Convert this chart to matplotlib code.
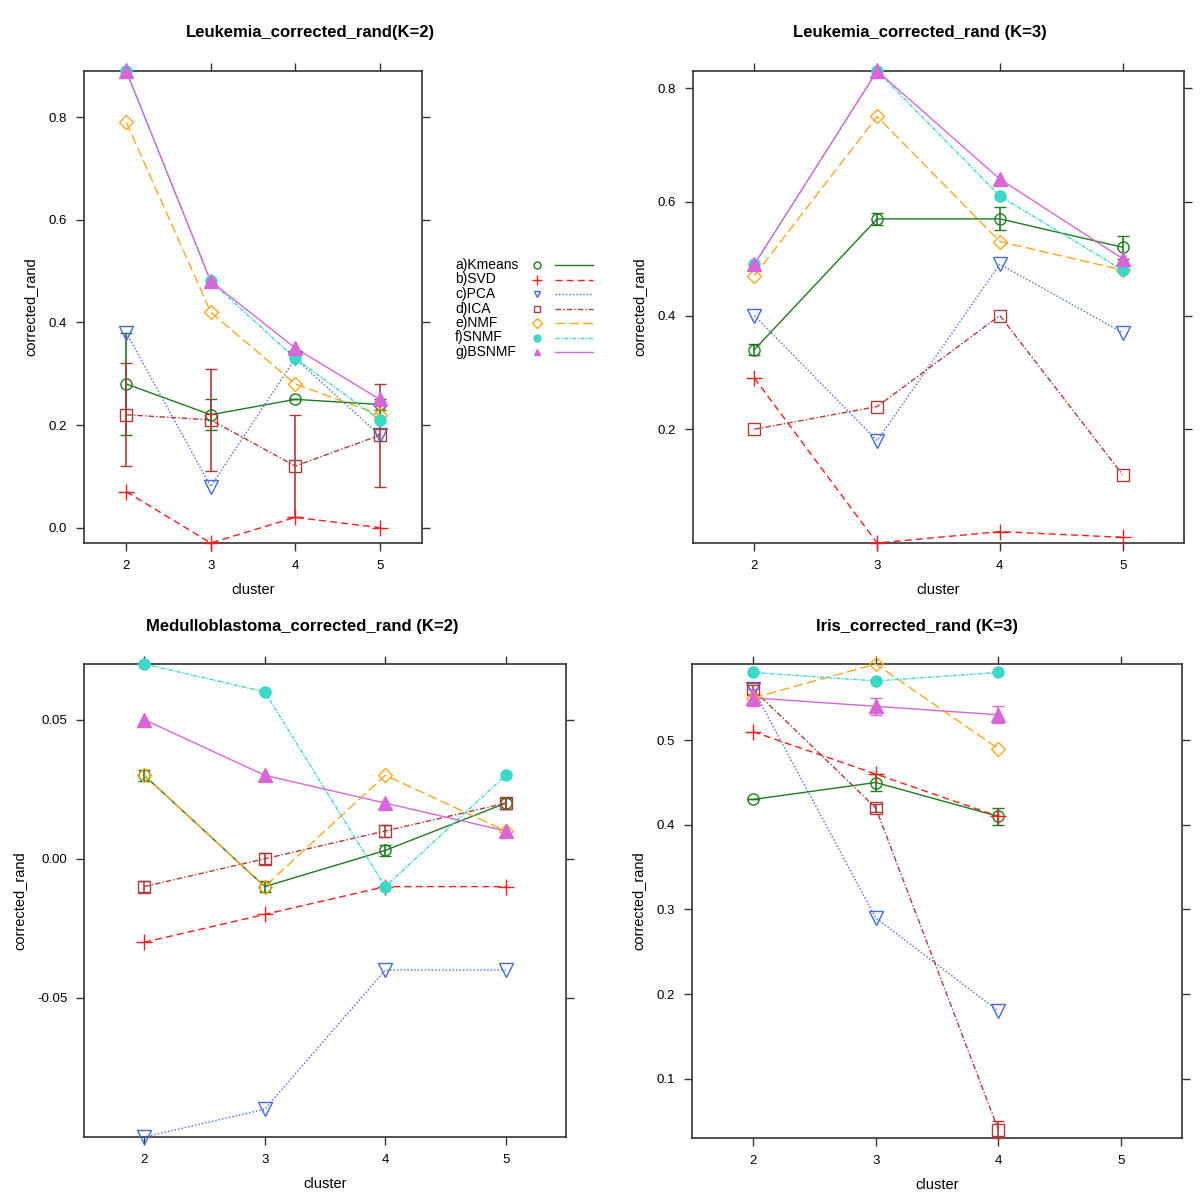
import numpy as np
import matplotlib
matplotlib.use("Agg")
import matplotlib.pyplot as plt
from matplotlib.lines import Line2D

plt.rcParams['font.family'] = ['Liberation Sans', 'DejaVu Sans']

# cluster numbers on the x axis
clusters = [2, 3, 4, 5]
methods = ['a)Kmeans', 'b)SVD', 'c)PCA', 'd)ICA', 'e)NMF', 'f)SNMF', 'g)BSNMF']

# Leukemia K=2
leuk2_vals = {
    'a)Kmeans': [0.28, 0.22, 0.25, 0.24],
    'b)SVD': [0.07, -0.03, 0.02, 0.0],
    'c)PCA': [0.38, 0.08, 0.33, 0.18],
    'd)ICA': [0.22, 0.21, 0.12, 0.18],
    'e)NMF': [0.79, 0.42, 0.28, 0.22],
    'f)SNMF': [0.89, 0.48, 0.33, 0.21],
    'g)BSNMF': [0.89, 0.48, 0.35, 0.25],
}
leuk2_err = {
    'a)Kmeans': [0.10, 0.03, 0.0, 0.01],
    'd)ICA': [0.10, 0.10, 0.10, 0.10],
}

# Leukemia K=3
leuk3_vals = {
    'a)Kmeans': [0.34, 0.57, 0.57, 0.52],
    'b)SVD': [0.29, 0.0, 0.02, 0.01],
    'c)PCA': [0.40, 0.18, 0.49, 0.37],
    'd)ICA': [0.20, 0.24, 0.40, 0.12],
    'e)NMF': [0.47, 0.75, 0.53, 0.48],
    'f)SNMF': [0.49, 0.83, 0.61, 0.48],
    'g)BSNMF': [0.49, 0.83, 0.64, 0.50],
}
leuk3_err = {
    'a)Kmeans': [0.01, 0.01, 0.02, 0.02],
}

# Medulloblastoma K=2
medu2_vals = {
    'a)Kmeans': [0.03, -0.01, 0.003, 0.02],
    'b)SVD': [-0.03, -0.02, -0.01, -0.01],
    'c)PCA': [-0.10, -0.09, -0.04, -0.04],
    'd)ICA': [-0.01, 0.0, 0.01, 0.02],
    'e)NMF': [0.03, -0.01, 0.03, 0.01],
    'f)SNMF': [0.07, 0.06, -0.01, 0.03],
    'g)BSNMF': [0.05, 0.03, 0.02, 0.01],
}
medu2_err = {
    'a)Kmeans': [0.002, 0.002, 0.002, 0.002],
    'd)ICA': [0.002, 0.002, 0.002, 0.002],
}

# Iris K=3 (no result for 5 clusters)
iris3_vals = {
    'a)Kmeans': [0.43, 0.45, 0.41, np.nan],
    'b)SVD': [0.51, 0.46, 0.41, np.nan],
    'c)PCA': [0.56, 0.29, 0.18, np.nan],
    'd)ICA': [0.56, 0.42, 0.04, np.nan],
    'e)NMF': [0.55, 0.59, 0.49, np.nan],
    'f)SNMF': [0.58, 0.57, 0.58, np.nan],
    'g)BSNMF': [0.55, 0.54, 0.53, np.nan],
}
iris3_err = {
    'a)Kmeans': [0.0, 0.01, 0.01, 0],
    'd)ICA': [0.005, 0.005, 0.01, 0],
    'g)BSNMF': [0.01, 0.01, 0.01, 0],
}

# style per method: colour, linestyle, marker, filled
styles = {
    'a)Kmeans': ('#1E7B1E', '-', 'o', False),
    'b)SVD': ('#FF1A1A', (0, (5, 3)), '+', False),
    'c)PCA': ('#4169E1', (0, (1, 1.5)), 'v', False),
    'd)ICA': ('#B03A3A', (0, (4, 1.5, 1, 1.5)), 's', False),
    'e)NMF': ('#FFA81E', (0, (7, 3)), 'D', False),
    'f)SNMF': ('#3CD8C8', (0, (3, 1, 1, 1)), 'o', True),
    'g)BSNMF': ('#D966D6', '-', '^', True),
}
msizes = {'o': 8, '+': 12, 'v': 10, 's': 8, 'D': 7.5, '^': 10}

fig = plt.figure(figsize=(12, 11.92), dpi=100)
W, H = 1200, 1192


def box(l, t, r, b):
    return [l / W, 1 - b / H, (r - l) / W, (b - t) / H]


panels = [
    (box(84, 71, 422, 543), leuk2_vals, leuk2_err, (-0.03, 0.89), [0.0, 0.2, 0.4, 0.6, 0.8], '%.1f'),
    (box(693, 71, 1184, 543), leuk3_vals, leuk3_err, (0.0, 0.83), [0.2, 0.4, 0.6, 0.8], '%.1f'),
    (box(84, 664, 566, 1137), medu2_vals, medu2_err, (-0.1, 0.07), [-0.05, 0.0, 0.05], '%.2f'),
    (box(692, 664, 1182, 1138), iris3_vals, iris3_err, (0.03, 0.59), [0.1, 0.2, 0.3, 0.4, 0.5], '%.1f'),
]

for pos, vals, errs, ylim, yticks, fmt in panels:
    ax = fig.add_axes(pos)
    for k, m in enumerate(methods):
        col, ls, mk, filled = styles[m]
        y = np.array(vals[m], dtype=float)
        ax.plot(clusters, y, color=col, linestyle=ls, linewidth=1.0, clip_on=False, zorder=3)
        ax.plot(clusters, y, linestyle='none', marker=mk, markersize=msizes[mk],
                markerfacecolor=col if filled else 'none', markeredgecolor=col,
                markeredgewidth=1.0, clip_on=False, zorder=4 + k * 0.1)
        if m in errs:
            e = np.array(errs[m], dtype=float)
            ax.errorbar(clusters, y, yerr=e, fmt='none', ecolor=col, elinewidth=1.2,
                        capsize=4, capthick=1.0, clip_on=False, zorder=3)
    ax.set_xlim(1.5, 5.5)
    ax.set_ylim(*ylim)
    ax.set_xticks(clusters)
    ax.set_yticks(yticks)
    ax.set_yticklabels([(fmt % v) for v in yticks])
    ax.tick_params(direction='out', length=6, width=1, color='#333333', labelsize=9.5,
                   top=True, right=True, labeltop=False, labelright=False, pad=6)
    for s in ax.spines.values():
        s.set_color('#333333')
        s.set_linewidth(1.2)
    ax.set_xlabel('cluster', fontsize=10.5, labelpad=8)
    ax.set_ylabel('corrected_rand', fontsize=10.5, labelpad=8)

titles = [
    ('Leukemia_corrected_rand(K=2)', 310, 32),
    ('Leukemia_corrected_rand (K=3)', 920, 32),
    ('Medulloblastoma_corrected_rand (K=2)', 302, 627),
    ('Iris_corrected_rand (K=3)', 917, 627),
]
for txt, x, y in titles:
    fig.text(x / W, 1 - y / H, txt, ha='center', va='center', fontsize=12, fontweight='bold')

# key between the two top panels
for i, m in enumerate(methods):
    col, ls, mk, filled = styles[m]
    yy = 1 - (265 + i * 14.5) / H
    fig.text(455 / W, yy, m, ha='left', va='center', fontsize=10)
    fig.add_artist(Line2D([537 / W], [yy], marker=mk, markersize=5 if mk != '+' else 7,
                          markerfacecolor=col if filled else 'none', markeredgecolor=col,
                          linestyle='none'))
    fig.add_artist(Line2D([555 / W, 593 / W], [yy, yy], color=col, linestyle=ls, linewidth=1.0))

fig.savefig('out.png', dpi=100)
